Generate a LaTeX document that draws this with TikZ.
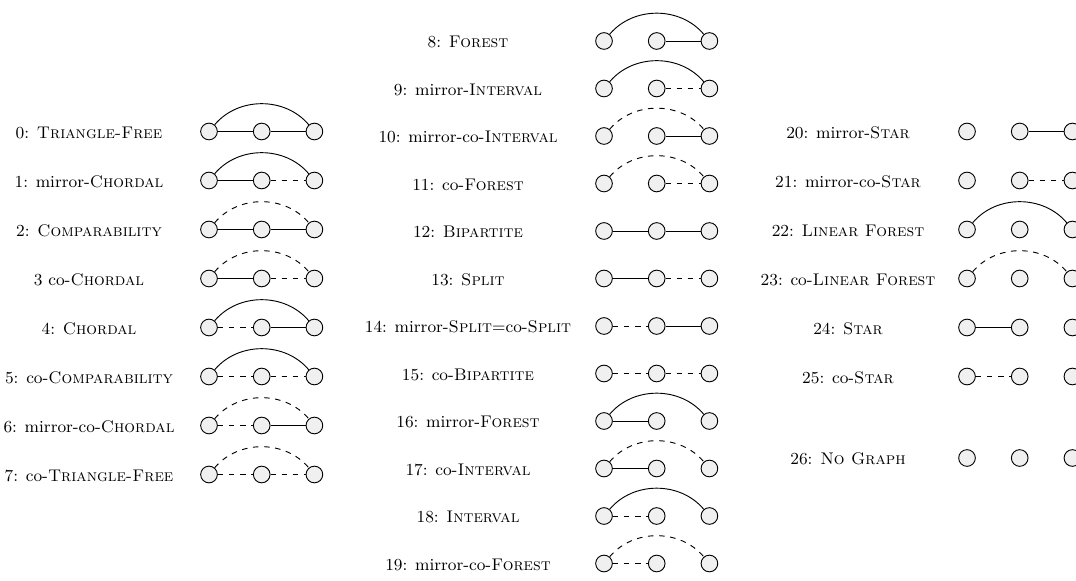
\documentclass[tikz,border=0pt]{standalone}
\begin{document}
\begin{tikzpicture}[x=0.54pt,y=-0.54pt,
  vtx/.style={circle,draw=black,fill=black!6,line width=0.5pt,minimum size=9pt,inner sep=0pt},
  lab/.style={anchor=center,font=\fontsize{9.1}{11}\selectfont},
  se/.style={draw=black,line width=0.5pt},
  de/.style={draw=black,line width=0.5pt,dashed},
  ne/.style={draw=none}]
\useasboundingbox (0,0) rectangle (1076,581);
% #1 id, #2 x-left-node, #3 y, #4 label x, #5 label, #6 ab, #7 bc, #8 ac
\newcommand{\grow}[8]{%
  \node[lab] (l#1) at (#4,#3+1) {#5};
  \node[vtx] (#1a) at (#2,#3) {};
  \node[vtx] (#1b) at (#2+52.7,#3) {};
  \node[vtx] (#1c) at (#2+105.4,#3) {};
  \draw[#6] (#1a) -- (#1b);
  \draw[#7] (#1b) -- (#1c);
  \draw[#8] (#1a) to[bend left=50] (#1c);
}
% left column
\grow{g0}{209}{131.5}{89}{0: \textsc{Triangle-Free}}{se}{se}{se}
\grow{g1}{209}{180.5}{89}{1: mirror-\textsc{Chordal}}{se}{de}{se}
\grow{g2}{209}{229.5}{89}{2: \textsc{Comparability}}{se}{se}{de}
\grow{g3}{209}{278.5}{89}{3 co-\textsc{Chordal}}{se}{de}{de}
\grow{g4}{209}{327.5}{89}{4: \textsc{Chordal}}{de}{se}{se}
\grow{g5}{209}{376.5}{89}{5: co-\textsc{Comparability}}{de}{de}{se}
\grow{g6}{209}{425.5}{89}{6: mirror-co-\textsc{Chordal}}{de}{se}{de}
\grow{g7}{209}{474.5}{89}{7: co-\textsc{Triangle-Free}}{de}{de}{de}
% middle column
\grow{g8}{604}{41}{468}{8: \textsc{Forest}}{ne}{se}{se}
\grow{g9}{604}{88.5}{468}{9: mirror-\textsc{Interval}}{ne}{de}{se}
\grow{g10}{604}{136}{468}{10: mirror-co-\textsc{Interval}}{ne}{se}{de}
\grow{g11}{604}{183.5}{468}{11: co-\textsc{Forest}}{ne}{de}{de}
\grow{g12}{604}{231}{468}{12: \textsc{Bipartite}}{se}{se}{ne}
\grow{g13}{604}{278.5}{468}{13: \textsc{Split}}{se}{de}{ne}
\grow{g14}{604}{326}{468}{14: mirror-\textsc{Split}=co-\textsc{Split}}{de}{se}{ne}
\grow{g15}{604}{373.5}{468}{15: co-\textsc{Bipartite}}{de}{de}{ne}
\grow{g16}{604}{421}{468}{16: mirror-\textsc{Forest}}{se}{ne}{se}
\grow{g17}{604}{468.5}{468}{17: co-\textsc{Interval}}{se}{ne}{de}
\grow{g18}{604}{516}{468}{18: \textsc{Interval}}{de}{ne}{se}
\grow{g19}{604}{563.5}{468}{19: mirror-co-\textsc{Forest}}{de}{ne}{de}
% right column
\grow{g20}{967}{131.5}{848}{20: mirror-\textsc{Star}}{ne}{se}{ne}
\grow{g21}{967}{180.5}{848}{21: mirror-co-\textsc{Star}}{ne}{de}{ne}
\grow{g22}{967}{229.5}{848}{22: \textsc{Linear Forest}}{ne}{ne}{se}
\grow{g23}{967}{278.5}{848}{23: co-\textsc{Linear Forest}}{ne}{ne}{de}
\grow{g24}{967}{327.5}{848}{24: \textsc{Star}}{se}{ne}{ne}
\grow{g25}{967}{376.5}{848}{25: co-\textsc{Star}}{de}{ne}{ne}
\grow{g26}{967}{458}{848}{26: \textsc{No Graph}}{ne}{ne}{ne}
\end{tikzpicture}
\end{document}
